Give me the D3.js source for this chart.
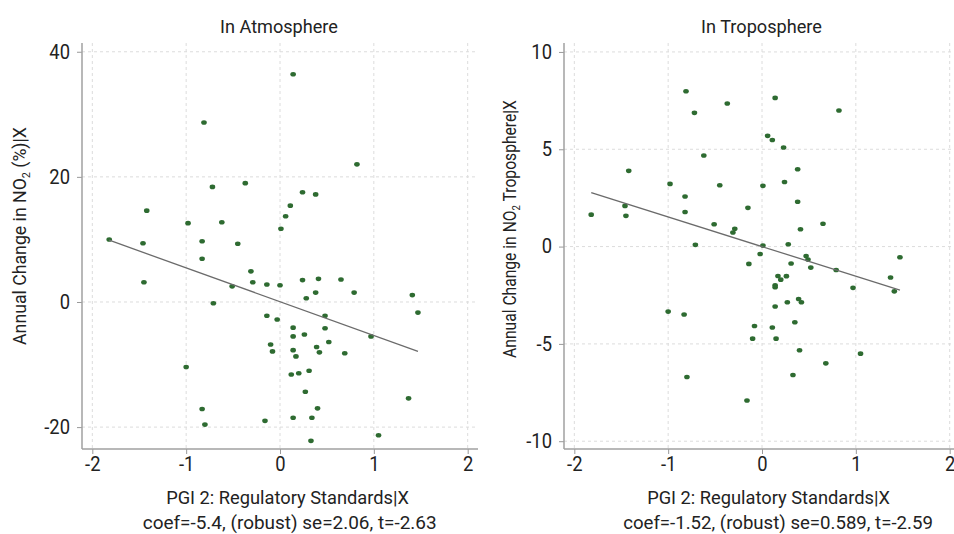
<!DOCTYPE html>
<html><head><meta charset="utf-8">
<script src="https://cdn.jsdelivr.net/npm/d3@7"></script>
<style>body{margin:0;background:#fff;} text{font-family:Roboto,"Liberation Sans",sans-serif;fill:#222;}</style>
</head><body><svg id="c" width="954" height="534"></svg>
<script>
const xTicks = [-2, -1, 0, 1, 2];
const atmYTicks = [-20, 0, 20, 40];
const tropYTicks = [-10, -5, 0, 5, 10];

const atmX = [-0.81,-0.72,-0.37,-1.42,-0.98,-0.62,0.14,0.82,0.24,0.38,0.11,0.06,0.01,
  -1.82,-1.46,-0.83,-0.45,-0.83,-1.45,-0.31,-0.29,-0.51,-0.14,0.0,-0.71,-0.14,-0.03,-0.10,-0.08,-1.0,-0.83,-0.80,-0.16,
  0.24,0.41,0.65,0.79,0.38,0.28,1.41,1.47,0.48,0.14,0.48,0.14,0.26,0.97,0.52,0.14,0.17,0.39,0.42,0.69,0.12,0.20,0.31,0.27,1.37,0.40,0.14,0.34,1.05,0.33];
const atmY = [28.7,18.4,19.0,14.6,12.6,12.75,36.4,22.0,17.55,17.2,15.4,13.7,11.7,
  10.0,9.4,9.7,9.3,6.9,3.15,4.9,3.15,2.5,2.8,2.67,-0.2,-2.2,-2.8,-6.8,-7.9,-10.4,-17.1,-19.6,-19.0,
  3.5,3.7,3.6,1.5,1.5,0.6,1.1,-1.7,-2.2,-4.1,-4.2,-5.5,-5.2,-5.5,-6.4,-7.7,-8.7,-7.2,-8.05,-8.2,-11.6,-11.4,-11.0,-14.35,-15.4,-17.0,-18.5,-18.5,-21.3,-22.2];

const tropX = [-0.81,-0.37,-0.72,-0.62,-1.42,-0.98,-0.45,-0.82,-1.46,-0.82,-1.82,-1.45,-0.15,-0.51,-0.29,-0.31,-0.71,
  0.14,0.82,0.06,0.11,0.23,0.38,0.01,0.24,0.38,0.65,0.41,0.28,0.01,
  -0.02,-0.14,-1.0,-0.83,-0.08,-0.10,-0.80,-0.16,
  0.47,0.49,0.31,1.47,0.52,0.79,1.37,1.41,0.97,0.17,0.26,0.20,0.14,0.14,0.27,0.39,0.42,0.14,0.35,0.11,0.15,0.40,1.05,0.68,0.33];
const tropY = [7.98,7.35,6.87,4.68,3.89,3.22,3.15,2.57,2.09,1.78,1.64,1.58,1.99,1.15,0.92,0.72,0.09,
  7.64,6.99,5.69,5.48,5.09,3.97,3.12,3.32,2.30,1.17,0.89,0.12,0.05,
  -0.38,-0.89,-3.34,-3.49,-4.08,-4.73,-6.70,-7.91,
  -0.48,-0.67,-0.87,-0.55,-1.08,-1.2,-1.59,-2.3,-2.12,-1.51,-1.52,-1.70,-1.99,-2.09,-2.86,-2.69,-2.86,-3.08,-3.89,-4.16,-4.73,-5.33,-5.5,-6.0,-6.6];

const fitAtm = {slope: -5.4, intercept: 0.05};
const fitTrop = {slope: -1.52, intercept: 0.0};

const titles = ["In Atmosphere", "In Troposphere"];
const xLabel = "PGI 2: Regulatory Standards|X";
const notes = ["coef=-5.4, (robust) se=2.06, t=-2.63", "coef=-1.52, (robust) se=0.589, t=-2.59"];

const svg = d3.select("#c");
const fmt = d => String(d); // plain hyphen-minus like the reference

// place text centered at (cx,cy) with rotation, horizontally scaled to width w
function placeText(parent, cx, cy, rot, size, w, build) {
  const g = parent.append("g").attr("transform", `translate(${cx},${cy}) rotate(${rot})`);
  const t = g.append("text").attr("text-anchor", "middle").attr("font-size", size);
  build(t);
  const bw = t.node().getComputedTextLength ? t.node().getBBox().width : w;
  if (bw > 0) t.attr("transform", `scale(${w / bw},1)`);
  return t;
}

const panels = [
  {x0:82, x1:478, xd:[-2.11,2.11], yd:[-23.5,41.4], yTicks:atmYTicks, xs:atmX, ys:atmY, fit:fitAtm,
   title:titles[0], note:notes[0], yLab:["Annual Change in NO","2"," (%)|X"],
   tPos:[279,118], xlPos:[287.5,243], nPos:[289.7,294], ylPos:[20,236,218]},
  {x0:564, x1:960, xd:[-2.11,2.11], yd:[-10.4,10.46], yTicks:tropYTicks, xs:tropX, ys:tropY, fit:fitTrop,
   title:titles[1], note:notes[1], yLab:["Annual Change in NO","2"," Troposphere|X"],
   tPos:[761.5,121], xlPos:[768.5,243], nPos:[778,310], ylPos:[510,229,258]}
];
const yTop = 43, yBot = 449;

panels.forEach(p => {
  const x = d3.scaleLinear().domain(p.xd).range([p.x0, p.x1]);
  const y = d3.scaleLinear().domain(p.yd).range([yBot, yTop]);
  const g = svg.append("g");
  g.selectAll(".gx").data(xTicks).join("line")
    .attr("x1", d=>x(d)).attr("x2", d=>x(d)).attr("y1", yTop).attr("y2", yBot)
    .attr("stroke", "#dcdcdc").attr("stroke-width", 1).attr("stroke-dasharray", "3,3");
  g.selectAll(".gy").data(p.yTicks).join("line")
    .attr("x1", p.x0).attr("x2", p.x1).attr("y1", d=>y(d)).attr("y2", d=>y(d))
    .attr("stroke", "#dcdcdc").attr("stroke-width", 1).attr("stroke-dasharray", "3,3");
  const ax = g.append("g").attr("transform", `translate(0,${yBot})`)
    .call(d3.axisBottom(x).tickValues(xTicks).tickSize(5).tickPadding(3).tickFormat(fmt));
  const ay = g.append("g").attr("transform", `translate(${p.x0},0)`)
    .call(d3.axisLeft(y).tickValues(p.yTicks).tickSize(5).tickPadding(7).tickFormat(fmt));
  [ax, ay].forEach(a => {
    a.select(".domain").remove();
    a.selectAll(".tick line").attr("stroke", "#999");
    a.selectAll(".tick text").attr("font-size", 20).attr("fill", "#222")
      .style("font-family","Roboto").attr("transform", "scale(0.92,1)");
  });
  // compensate scale for tick text positions
  ay.selectAll(".tick text").attr("x", -12/0.92);
  ax.selectAll(".tick text").attr("x", 0);
  g.append("line").attr("x1", p.x0).attr("x2", p.x0).attr("y1", yTop).attr("y2", yBot).attr("stroke", "#a0a0a0").attr("stroke-width", 1.5);
  g.append("line").attr("x1", p.x0).attr("x2", p.x1).attr("y1", yBot).attr("y2", yBot).attr("stroke", "#a0a0a0").attr("stroke-width", 1.5);
  const pts = p.xs.map((v,i)=>[v, p.ys[i]]);
  g.selectAll(".pt").data(pts).join("ellipse")
    .attr("cx", d=>x(d[0])).attr("cy", d=>y(d[1])).attr("rx", 2.8).attr("ry", 2.3)
    .attr("fill", "#2e6b31");
  const ext = d3.extent(p.xs);
  g.append("line")
    .attr("x1", x(ext[0])).attr("y1", y(p.fit.intercept + p.fit.slope*ext[0]))
    .attr("x2", x(ext[1])).attr("y2", y(p.fit.intercept + p.fit.slope*ext[1]))
    .attr("stroke", "#6b6b6b").attr("stroke-width", 1.3);
  placeText(g, p.tPos[0], 33, 0, 18, p.tPos[1], t => t.text(p.title));
  placeText(g, p.xlPos[0], 504, 0, 19, p.xlPos[1], t => t.text(xLabel));
  placeText(g, p.nPos[0], 529, 0, 19, p.nPos[1], t => t.text(p.note));
  placeText(g, p.ylPos[0] + 6, p.ylPos[1], -90, 18, p.ylPos[2], t => {
    t.append("tspan").text(p.yLab[0]);
    t.append("tspan").attr("font-size", 11).attr("dy", 4).text(p.yLab[1]);
    t.append("tspan").attr("dy", -4).text(p.yLab[2]);
  });
});
</script></body></html>
